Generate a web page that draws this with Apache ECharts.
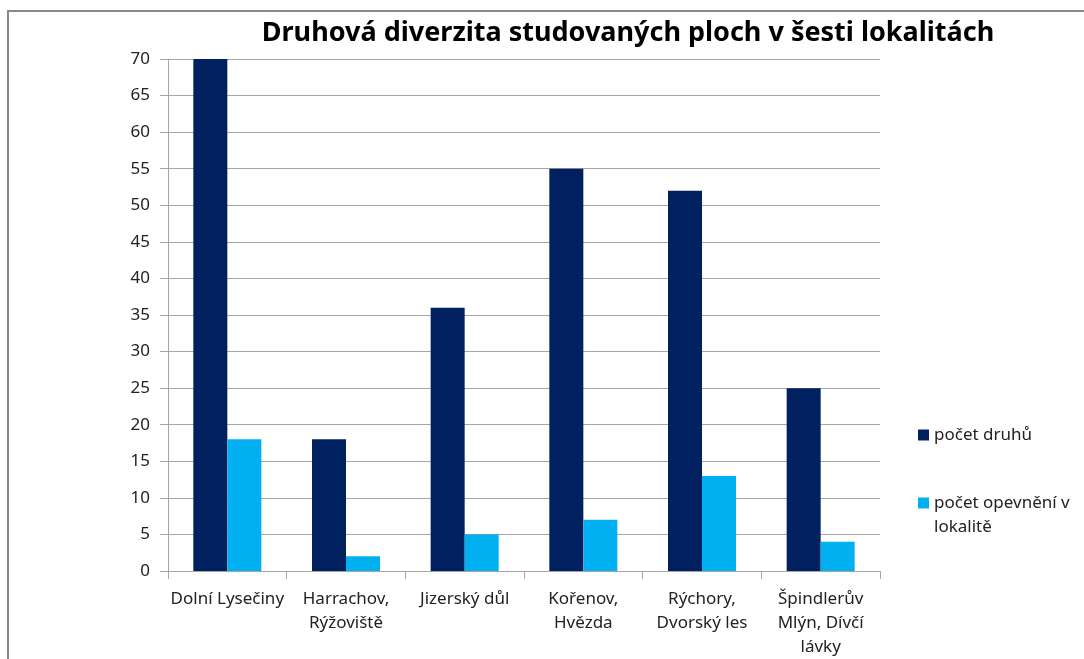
<!DOCTYPE html>
<html>
<head>
<meta charset="utf-8">
<script src="https://cdn.jsdelivr.net/npm/echarts@6/dist/echarts.min.js"></script>
<style>
  html, body { margin: 0; padding: 0; background: #fff; }
  #chart { width: 1084px; height: 659px; }
</style>
</head>
<body>
<div id="chart"></div>
<script>
// lokality
const categories = [
  'Dolní Lysečiny',
  'Harrachov,\nRýžoviště',
  'Jizerský důl',
  'Kořenov,\nHvězda',
  'Rýchory,\nDvorský les',
  'Špindlerův\nMlýn, Dívčí\nlávky',
];
const pocetDruhu = [70, 18, 36, 55, 52, 25];
const pocetOpevneni = [18, 2, 5, 7, 13, 4];
const seriesNames = ['počet druhů', 'počet opevnění v lokalitě'];

const font = 'Noto Sans';
const chart = echarts.init(document.getElementById('chart'));

chart.setOption({
  animation: false,
  color: ['#002060', '#00B0F0'],
  title: {
    text: 'Druhová diverzita studovaných ploch v šesti lokalitách',
    left: 623,
    top: 15,
    textAlign: 'center',
    textStyle: { fontFamily: font, fontSize: 27, fontWeight: 'bold', color: '#000' },
  },
  legend: {
    orient: 'vertical',
    left: 913,
    top: 418,
    itemWidth: 11,
    itemHeight: 11,
    itemGap: 20,
    icon: 'rect',
    textStyle: { fontFamily: font, fontSize: 17, color: '#222', lineHeight: 24 },
    formatter(name) {
      // prázdný řádek nahoře, aby ikonka seděla u prvního řádku
      return name === seriesNames[1] ? '\npočet opevnění v\nlokalitě' : name;
    },
  },
  graphic: [
    {
      type: 'rect',
      shape: { x: 8, y: 11, width: 1100, height: 700 },
      style: { fill: 'none', stroke: '#888', lineWidth: 2 },
      silent: true,
    },
  ],
  grid: { left: 168, right: 204, top: 59, bottom: 86 },
  xAxis: {
    type: 'category',
    data: categories,
    axisLine: { lineStyle: { color: '#a6a6a6' } },
    axisTick: { show: true, length: 8, lineStyle: { color: '#a6a6a6' } },
    axisLabel: {
      interval: 0,
      margin: 16,
      fontFamily: font,
      fontSize: 17,
      lineHeight: 24,
      color: '#222',
    },
  },
  yAxis: {
    type: 'value',
    min: 0,
    max: 70,
    interval: 5,
    axisLine: { show: true, lineStyle: { color: '#a6a6a6' } },
    axisTick: { show: true, length: 8, lineStyle: { color: '#a6a6a6' } },
    axisLabel: { margin: 18, fontFamily: font, fontSize: 17, color: '#222' },
    splitLine: { lineStyle: { color: '#a6a6a6' } },
  },
  series: [
    {
      name: seriesNames[0],
      type: 'bar',
      data: pocetDruhu,
      barWidth: 34,
      barGap: '0%',
    },
    {
      name: seriesNames[1],
      type: 'bar',
      data: pocetOpevneni,
      barWidth: 34,
      barGap: '0%',
    },
  ],
});
</script>
</body>
</html>
